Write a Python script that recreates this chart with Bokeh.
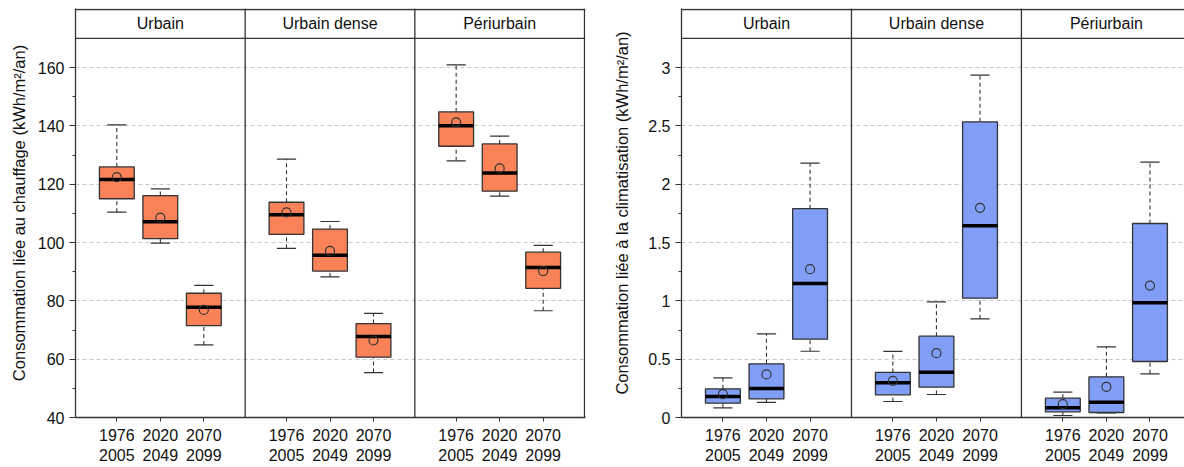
from bokeh.plotting import figure
from bokeh.models import FixedTicker, Span, Range1d
from bokeh.layouts import row
from bokeh.embed import file_html
from bokeh.resources import INLINE
from bokeh.core.properties import value

# ---------------- data ----------------
zones = ["Urbain", "Urbain dense", "Périurbain"]
periods = ["1976\n2005", "2020\n2049", "2070\n2099"]

# order: zone-major (Urbain x3 periods, Urbain dense x3, Périurbain x3)
heat_low = [110.4, 99.8, 64.9, 98.0, 88.2, 55.4, 128.0, 115.9, 76.6]
heat_q1 = [115.0, 101.3, 71.5, 102.8, 90.2, 60.7, 133.0, 117.6, 84.3]
heat_med = [121.6, 107.1, 77.8, 109.5, 95.6, 67.8, 140.0, 123.8, 91.4]
heat_q3 = [125.9, 116.1, 82.6, 113.8, 104.6, 72.2, 144.8, 133.8, 96.7]
heat_high = [140.3, 118.4, 85.3, 128.6, 107.2, 75.7, 160.9, 136.5, 99.0]
heat_mean = [122.4, 108.5, 76.9, 110.3, 97.1, 66.4, 141.2, 125.4, 90.2]

cool_low = [0.083, 0.129, 0.568, 0.137, 0.197, 0.846, 0.017, 0.040, 0.374]
cool_q1 = [0.123, 0.160, 0.671, 0.194, 0.260, 1.023, 0.049, 0.043, 0.480]
cool_med = [0.180, 0.249, 1.149, 0.297, 0.388, 1.643, 0.083, 0.131, 0.983]
cool_q3 = [0.246, 0.460, 1.790, 0.386, 0.697, 2.534, 0.166, 0.349, 1.663]
cool_high = [0.340, 0.717, 2.180, 0.566, 0.991, 2.934, 0.217, 0.606, 2.189]
cool_mean = [0.200, 0.369, 1.271, 0.314, 0.551, 1.797, 0.114, 0.263, 1.131]

heat_ticks = [40, 60, 80, 100, 120, 140, 160]
heat_tick_labels = ["40", "60", "80", "100", "120", "140", "160"]
heat_minor = [50, 70, 90, 110, 130, 150]
cool_ticks = [0, 0.5, 1, 1.5, 2, 2.5, 3]
cool_tick_labels = ["0", "0.5", "1", "1.5", "2", "2.5", "3"]
cool_minor = [0.25, 0.75, 1.25, 1.75, 2.25, 2.75]

FONT = "Liberation Sans"
LINE = "#333333"
TXT = "#111111"

PANEL = 39  # x units per panel
xs = [k * PANEL + (i + 1) * 10 for k in range(len(zones)) for i in range(len(periods))]
bounds = [0.5 + PANEL * k for k in range(len(zones) + 1)]

H = 467
FRAME_TOP = 8      # px of frame top
FRAME_BOT = 417    # px of frame bottom (axis)


def make_fig(width, border_left, border_right, frame_w, x_ppu, label_standoff,
             y0, ppu, ylabel, ticks, tick_labels, minor, header_val,
             low, q1, med, q3, high, mean, fill):
    y_end = y0 + (FRAME_BOT - FRAME_TOP) / ppu
    top_val = y0 + (FRAME_BOT - FRAME_TOP - 1) / ppu
    p = figure(width=width, height=H, output_backend="svg", toolbar_location=None,
               min_border_left=border_left, min_border_right=border_right,
               min_border_top=FRAME_TOP, min_border_bottom=H - FRAME_BOT,
               x_range=Range1d(0.5, 0.5 + frame_w / x_ppu),
               y_range=Range1d(y0, y_end))
    p.outline_line_color = None
    p.background_fill_color = "white"
    p.border_fill_color = "white"
    p.xgrid.visible = False
    p.ygrid.grid_line_color = "#c8c8c8"
    p.ygrid.grid_line_dash = "4 3"
    p.ygrid.grid_line_width = 1

    # y axis
    ya = p.yaxis[0]
    ya.ticker = FixedTicker(ticks=ticks, minor_ticks=minor)
    ya.major_label_overrides = {t: l for t, l in zip(ticks, tick_labels)}
    ya.axis_label = ylabel
    ya.axis_label_text_font = FONT
    ya.axis_label_text_font_size = "16.5px"
    ya.axis_label_text_font_style = "normal"
    ya.axis_label_text_color = TXT
    ya.axis_label_standoff = label_standoff
    ya.major_label_text_font = FONT
    ya.major_label_text_font_size = "16px"
    ya.major_label_text_color = TXT
    ya.major_label_standoff = 5
    ya.major_tick_out = 6
    ya.major_tick_in = 0
    ya.minor_tick_out = 3
    ya.minor_tick_in = 0
    ya.axis_line_color = LINE
    ya.axis_line_width = 1.3
    ya.major_tick_line_color = LINE
    ya.minor_tick_line_color = LINE

    # x axis
    xa = p.xaxis[0]
    xa.ticker = FixedTicker(ticks=xs, minor_ticks=[])
    xa.major_label_overrides = {x: periods[i % len(periods)] for i, x in enumerate(xs)}
    xa.major_label_text_font = FONT
    xa.major_label_text_font_size = "16px"
    xa.major_label_text_color = TXT
    xa.major_label_standoff = 5
    xa.major_tick_out = 4
    xa.major_tick_in = 0
    xa.axis_line_color = LINE
    xa.axis_line_width = 1.3
    xa.major_tick_line_color = LINE

    # frame lines
    p.add_layout(Span(location=header_val, dimension="width", line_color=LINE, line_width=1.3))
    p.add_layout(Span(location=top_val, dimension="width", line_color=LINE, line_width=1.3))
    for b in bounds[1:]:
        if b < 0.5 + frame_w / x_ppu:
            p.add_layout(Span(location=b, dimension="height", line_color=LINE, line_width=1.3))

    # header texts
    p.text(x=[(bounds[k] + bounds[k + 1]) / 2 for k in range(len(zones))],
           y=[(header_val + top_val) / 2] * len(zones), text=zones,
           text_font=value(FONT), text_font_size="16px", text_color=TXT,
           text_align="center", text_baseline="middle")

    # whiskers
    p.segment(x0=xs, x1=xs, y0=q3, y1=high, line_color=LINE, line_width=1.1, line_dash="4 3")
    p.segment(x0=xs, x1=xs, y0=low, y1=q1, line_color=LINE, line_width=1.1, line_dash="4 3")
    p.segment(x0=[x - 2.2 for x in xs], x1=[x + 2.2 for x in xs], y0=high, y1=high,
              line_color=LINE, line_width=1.2)
    p.segment(x0=[x - 2.2 for x in xs], x1=[x + 2.2 for x in xs], y0=low, y1=low,
              line_color=LINE, line_width=1.2)
    # boxes
    p.vbar(x=xs, width=8, top=q3, bottom=q1, fill_color=fill, line_color=LINE, line_width=1.3)
    # medians
    p.segment(x0=[x - 4 for x in xs], x1=[x + 4 for x in xs], y0=med, y1=med,
              line_color="black", line_width=3.5)
    # means
    p.scatter(x=xs, y=mean, marker="circle", size=9, fill_color=None,
              line_color=LINE, line_width=1.2)
    return p


p1 = make_fig(610, 75, 25, 510, 509 / 117.0, 7,
              40, 350 / 120.0, "Consommation liée au chauffage (kWh/m²/an)",
              heat_ticks, heat_tick_labels, heat_minor, 170,
              heat_low, heat_q1, heat_med, heat_q3, heat_high, heat_mean, "#F98259")

p2 = make_fig(574, 70, 0, 504, 170.3 / 39.0, 14,
              0, 350 / 3.0, "Consommation liée à la climatisation (kWh/m²/an)",
              cool_ticks, cool_tick_labels, cool_minor, 3.25,
              cool_low, cool_q1, cool_med, cool_q3, cool_high, cool_mean, "#809EF6")

layout = row(p1, p2)
open("out.html", "w").write(file_html(layout, INLINE))
